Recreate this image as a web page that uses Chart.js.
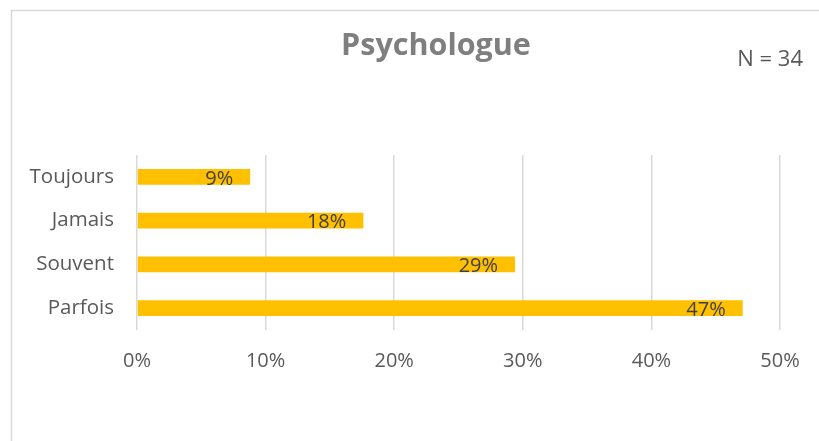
<!DOCTYPE html>
<html>
<head>
<meta charset="utf-8">
<script src="https://cdn.jsdelivr.net/npm/chart.js@4/dist/chart.umd.min.js"></script>
<style>
  html, body { margin: 0; padding: 0; background: #ffffff; }
  #wrap { width: 819px; height: 441px; position: relative; }
</style>
</head>
<body>
<div id="wrap"><canvas id="c" width="819" height="441"></canvas></div>
<script>
const categories = ['Toujours', 'Jamais', 'Souvent', 'Parfois'];
const values = [8.8, 17.6, 29.4, 47.1];
const valueLabels = ['9%', '18%', '29%', '47%'];
const xTicks = [0, 10, 20, 30, 40, 50];
const chartTitle = 'Psychologue';
const sampleNote = 'N = 34';

const FONT = '"Open Sans", "DejaVu Sans", sans-serif';

const decor = {
  id: 'decor',
  beforeDraw(chart) {
    const ctx = chart.ctx;
    ctx.save();
    ctx.strokeStyle = '#d9d9d9';
    ctx.lineWidth = 1.5;
    ctx.beginPath();
    ctx.moveTo(11.5, 441);
    ctx.lineTo(11.5, 10.5);
    ctx.lineTo(819, 10.5);
    ctx.stroke();
    ctx.restore();
  },
  afterDraw(chart) {
    const ctx = chart.ctx;
    ctx.save();
    ctx.fillStyle = '#7f7f7f';
    ctx.font = 'bold 30.5px ' + FONT;
    ctx.textAlign = 'center';
    ctx.textBaseline = 'alphabetic';
    ctx.fillText(chartTitle, 436, 55);
    ctx.fillStyle = '#595959';
    ctx.font = '22px ' + FONT;
    ctx.textAlign = 'right';
    ctx.fillText(sampleNote, 803, 66);
    // data labels, inside end
    const meta = chart.getDatasetMeta(0);
    const xs = chart.scales.x;
    ctx.fillStyle = '#404040';
    ctx.font = '20px ' + FONT;
    ctx.textAlign = 'right';
    ctx.textBaseline = 'middle';
    meta.data.forEach((bar, i) => {
      const xEnd = xs.getPixelForValue(values[i]);
      ctx.fillText(valueLabels[i], xEnd - 17, bar.y + 2);
    });
    ctx.restore();
  }
};

new Chart(document.getElementById('c'), {
  type: 'bar',
  data: {
    labels: categories,
    datasets: [{
      data: values,
      backgroundColor: '#FFC000',
      borderWidth: 0,
      categoryPercentage: 1.0,
      barPercentage: 0.355
    }]
  },
  options: {
    indexAxis: 'y',
    responsive: false,
    animation: false,
    layout: { padding: { left: 0, right: 39, top: 155, bottom: 0 } },
    plugins: {
      legend: { display: false },
      tooltip: { enabled: false },
      title: { display: false }
    },
    scales: {
      x: {
        min: 0,
        max: 50,
        afterBuildTicks(axis) { axis.ticks = xTicks.map(v => ({ value: v })); },
        border: { display: false },
        grid: { color: '#d9d9d9', lineWidth: 1.5, drawTicks: false },
        ticks: {
          color: '#595959',
          font: { family: FONT, size: 20 },
          padding: 19,
          callback: v => v + '%'
        },
        afterFit(axis) { axis.height = 111; }
      },
      y: {
        border: { display: false },
        grid: { display: false, drawTicks: false },
        ticks: {
          color: '#595959',
          font: { family: FONT, size: 20.5 },
          padding: 23
        },
        afterFit(axis) { axis.width = 137; }
      }
    }
  },
  plugins: [decor]
});
</script>
</body>
</html>
